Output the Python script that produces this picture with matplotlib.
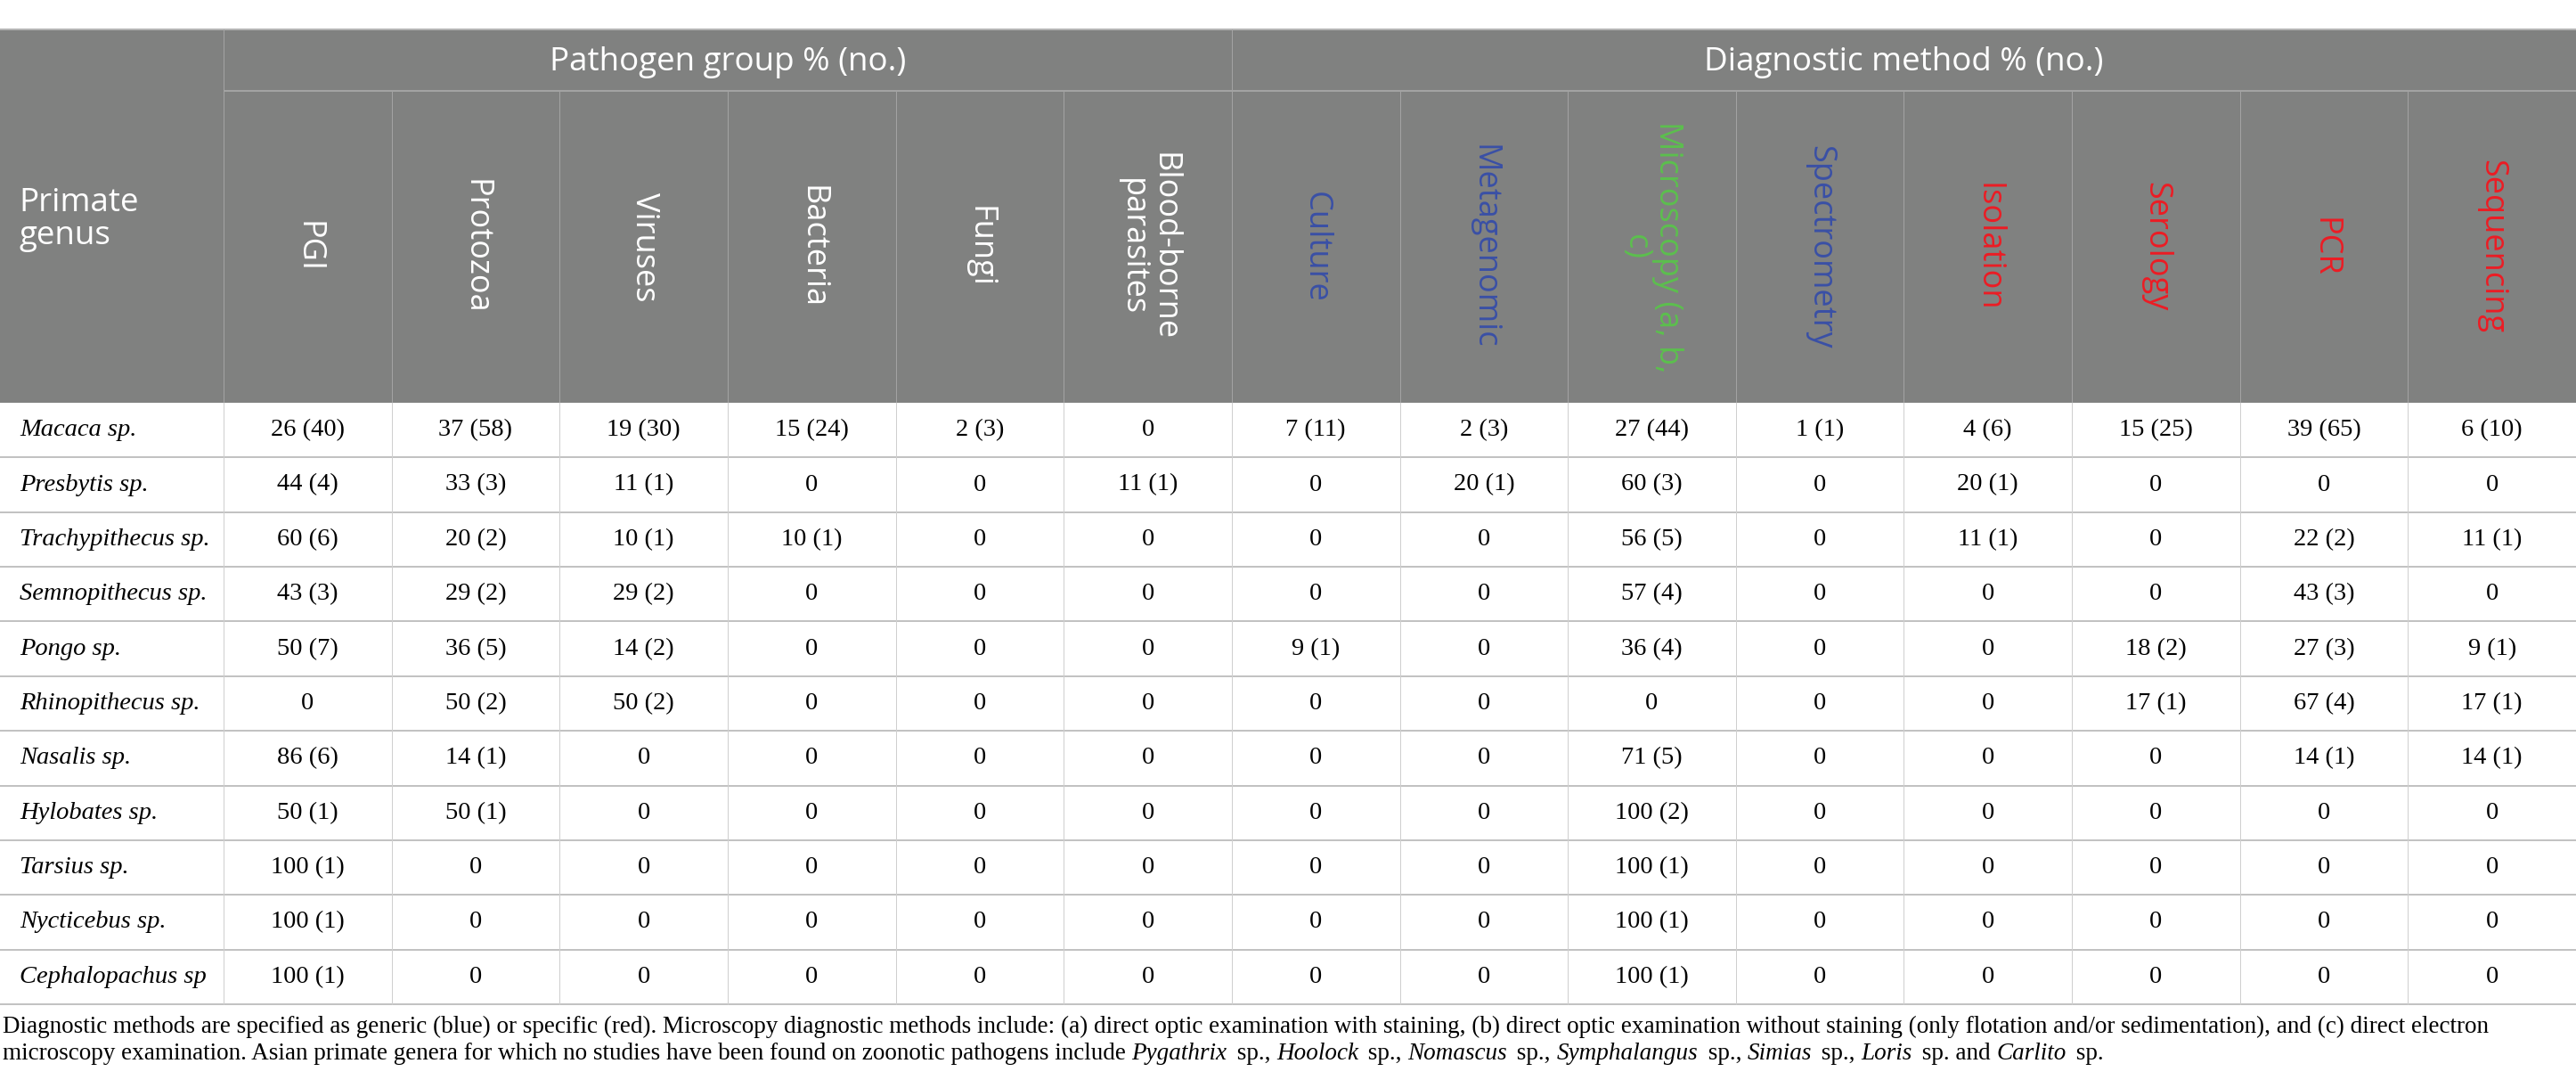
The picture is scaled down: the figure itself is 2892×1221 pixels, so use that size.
import numpy as np
import matplotlib.pyplot as plt

# ---- data ----
genera = ["Macaca sp.", "Presbytis sp.", "Trachypithecus sp.", "Semnopithecus sp.",
          "Pongo sp.", "Rhinopithecus sp.", "Nasalis sp.", "Hylobates sp.",
          "Tarsius sp.", "Nycticebus sp.", "Cephalopachus sp"]

pathogen_cols = ["PGI", "Protozoa", "Viruses", "Bacteria", "Fungi", "Blood-borne\nparasites"]
method_cols = ["Culture", "Metagenomic", "Microscopy (a, b,\nc)", "Spectrometry",
               "Isolation", "Serology", "PCR", "Sequencing"]
method_kind = ["generic", "generic", "microscopy", "generic",
               "specific", "specific", "specific", "specific"]

# percentages and study counts, one row per genus
pathogen_pct = [
    [26, 37, 19, 15, 2, 0],
    [44, 33, 11, 0, 0, 11],
    [60, 20, 10, 10, 0, 0],
    [43, 29, 29, 0, 0, 0],
    [50, 36, 14, 0, 0, 0],
    [0, 50, 50, 0, 0, 0],
    [86, 14, 0, 0, 0, 0],
    [50, 50, 0, 0, 0, 0],
    [100, 0, 0, 0, 0, 0],
    [100, 0, 0, 0, 0, 0],
    [100, 0, 0, 0, 0, 0],
]
pathogen_n = [
    [40, 58, 30, 24, 3, 0],
    [4, 3, 1, 0, 0, 1],
    [6, 2, 1, 1, 0, 0],
    [3, 2, 2, 0, 0, 0],
    [7, 5, 2, 0, 0, 0],
    [0, 2, 2, 0, 0, 0],
    [6, 1, 0, 0, 0, 0],
    [1, 1, 0, 0, 0, 0],
    [1, 0, 0, 0, 0, 0],
    [1, 0, 0, 0, 0, 0],
    [1, 0, 0, 0, 0, 0],
]
method_pct = [
    [7, 2, 27, 1, 4, 15, 39, 6],
    [0, 20, 60, 0, 20, 0, 0, 0],
    [0, 0, 56, 0, 11, 0, 22, 11],
    [0, 0, 57, 0, 0, 0, 43, 0],
    [9, 0, 36, 0, 0, 18, 27, 9],
    [0, 0, 0, 0, 0, 17, 67, 17],
    [0, 0, 71, 0, 0, 0, 14, 14],
    [0, 0, 100, 0, 0, 0, 0, 0],
    [0, 0, 100, 0, 0, 0, 0, 0],
    [0, 0, 100, 0, 0, 0, 0, 0],
    [0, 0, 100, 0, 0, 0, 0, 0],
]
method_n = [
    [11, 3, 44, 1, 6, 25, 65, 10],
    [0, 1, 3, 0, 1, 0, 0, 0],
    [0, 0, 5, 0, 1, 0, 2, 1],
    [0, 0, 4, 0, 0, 0, 3, 0],
    [1, 0, 4, 0, 0, 2, 3, 1],
    [0, 0, 0, 0, 0, 1, 4, 1],
    [0, 0, 5, 0, 0, 0, 1, 1],
    [0, 0, 2, 0, 0, 0, 0, 0],
    [0, 0, 1, 0, 0, 0, 0, 0],
    [0, 0, 1, 0, 0, 0, 0, 0],
    [0, 0, 1, 0, 0, 0, 0, 0],
]

footnote_1 = ("Diagnostic methods are specified as generic (blue) or specific (red). "
              "Microscopy diagnostic methods include: (a) direct optic examination with staining, "
              "(b) direct optic examination without staining (only flotation and/or sedimentation), "
              "and (c) direct electron")
footnote_2 = [("microscopy examination. Asian primate genera for which no studies have been "
               "found on zoonotic pathogens include ", False),
              ("Pygathrix", True), (" sp., ", False), ("Hoolock", True), (" sp., ", False),
              ("Nomascus", True), (" sp., ", False), ("Symphalangus", True), (" sp., ", False),
              ("Simias", True), (" sp., ", False), ("Loris", True), (" sp. and ", False),
              ("Carlito", True), (" sp.", False)]

# ---- style ----
HEAD_BG = "#808180"
KIND_COLOR = {"generic": "#3a50a6", "microscopy": "#5cbf4e", "specific": "#ec1c24"}
SANS = "Open Sans"
SERIF = "Liberation Serif"

W, H = 2892, 1221
fig = plt.figure(figsize=(W / 100, H / 100), dpi=100)
ax = fig.add_axes([0, 0, 1, 1])
ax.set_xlim(0, W)
ax.set_ylim(H, 0)
ax.axis("off")

first_w = 251
ncol = len(pathogen_cols) + len(method_cols)
col_w = (W - first_w) / ncol
y_top, y_grp, y_hdr, y_bot = 33, 102, 452, 1127
row_h = (y_bot - y_hdr) / len(genera)
px = 0.72  # one pixel in points

col_left = first_w + np.arange(ncol) * col_w
col_mid = col_left + col_w / 2
row_mid = y_hdr + (np.arange(len(genera)) + 0.5) * row_h

# header background
ax.add_patch(plt.Rectangle((0, y_top), W, y_hdr - y_top, color=HEAD_BG, lw=0, zorder=0))
ax.hlines(y_top, 0, W, color="#b4b4b4", lw=2 * px, zorder=2)
ax.hlines(y_grp, first_w, W, color="#a3a3a3", lw=2 * px, zorder=2)
group_split = first_w + len(pathogen_cols) * col_w
for xb in col_left:
    top = y_top if xb in (first_w, group_split) else y_grp
    ax.vlines(xb, top, y_hdr, color="#a3a3a3", lw=1 * px, zorder=2)

# body grid
for i in range(1, len(genera) + 1):
    ax.hlines(y_hdr + i * row_h, 0, W, color="#c2c2c2", lw=2 * px, zorder=2)
for xb in col_left:
    ax.vlines(xb, y_hdr, y_bot, color="#cfcfcf", lw=1 * px, zorder=2)

# header texts
ax.text(21, (y_top + y_hdr) / 2 + 4, "Primate\ngenus", color="white", family=SANS,
        fontsize=26.5, ha="left", va="center", linespacing=1.05)
ax.text((first_w + group_split) / 2, 70, "Pathogen group % (no.)", color="white",
        family=SANS, fontsize=26.5, ha="center", va="center")
ax.text((group_split + W) / 2, 70, "Diagnostic method % (no.)", color="white",
        family=SANS, fontsize=26.5, ha="center", va="center")

labels = pathogen_cols + method_cols
colors = ["white"] * len(pathogen_cols) + [KIND_COLOR[k] for k in method_kind]
for xm, lab, c in zip(col_mid, labels, colors):
    ax.text(xm, (y_grp + y_hdr) / 2, lab, color=c, family=SANS, fontsize=26,
            rotation=-90, ha="center", va="center", multialignment="center",
            linespacing=1.0, rotation_mode="anchor")

# body texts
def fmt(p, n):
    return "0" if p == 0 else f"{p} ({n})"

for r, g in enumerate(genera):
    ax.text(22, row_mid[r], g, family=SERIF, style="italic", fontsize=20.5,
            ha="left", va="center")
    vals = [fmt(p, n) for p, n in zip(pathogen_pct[r], pathogen_n[r])] + \
           [fmt(p, n) for p, n in zip(method_pct[r], method_n[r])]
    for c, v in enumerate(vals):
        ax.text(col_mid[c], row_mid[r], v, family=SERIF, fontsize=20.5,
                ha="center", va="center")

# footnote, sized to span the same width as the source
renderer = fig.canvas.get_renderer()


def text_w(s, size, italic=False):
    t = ax.text(0, 0, "|" + s + "|", family=SERIF, fontsize=size,
                style="italic" if italic else "normal")
    t0 = ax.text(0, 0, "||", family=SERIF, fontsize=size)
    w = t.get_window_extent(renderer).width - t0.get_window_extent(renderer).width
    t.remove()
    t0.remove()
    return w


fn_size = 16 * 2800 / text_w(footnote_1, 16)
ax.text(3, 1159, footnote_1, family=SERIF, fontsize=fn_size, ha="left", va="baseline")
x = 3
for s, it in footnote_2:
    ax.text(x, 1189, s, family=SERIF, fontsize=fn_size, ha="left", va="baseline",
            style="italic" if it else "normal")
    x += text_w(s, fn_size, it)

fig.savefig("out.png", dpi=100)
